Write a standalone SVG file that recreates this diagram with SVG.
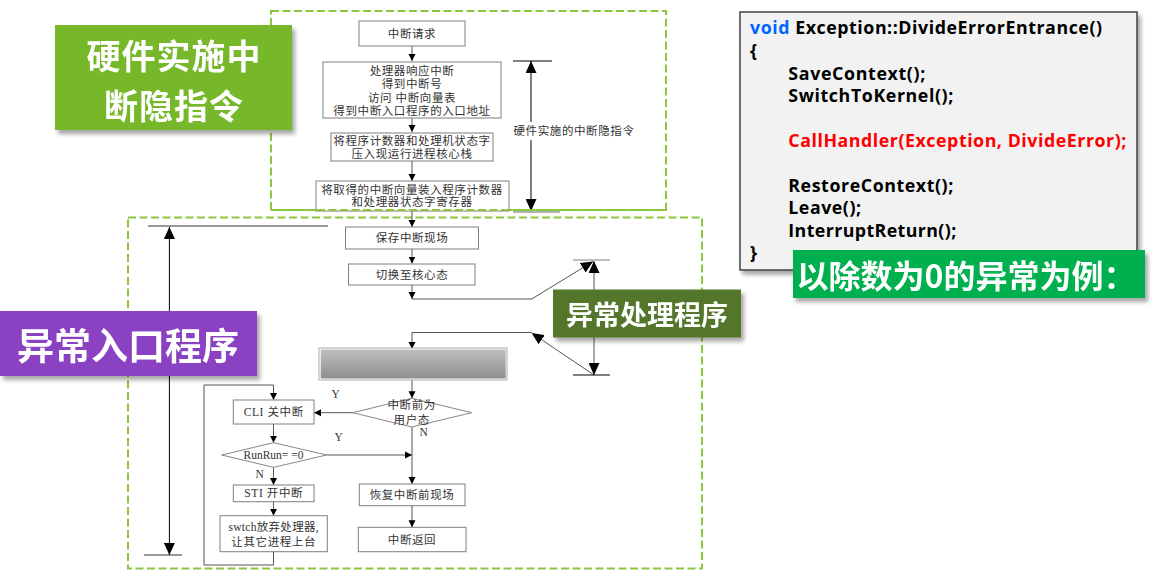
<svg xmlns="http://www.w3.org/2000/svg" width="1162" height="571" viewBox="0 0 1162 571">
<style>
.dash{fill:none;stroke:#8cc63f;stroke-width:2;stroke-dasharray:8 3.5}
.box{fill:#fff;stroke:#7f7f7f;stroke-width:1}
.ln{fill:none;stroke:#555;stroke-width:1}
.ft{font-family:"Liberation Serif","Noto Sans CJK SC",serif;font-size:11.5px;letter-spacing:0.6px;fill:#333;text-anchor:middle;dominant-baseline:central}
.code{font-family:"Open Sans","Noto Sans",sans-serif;font-weight:700;font-size:17.8px;fill:#000}
.lab{font-family:"Noto Sans CJK SC","Noto Sans",sans-serif;font-weight:700;fill:#fff;text-anchor:middle;dominant-baseline:central}
</style>
<defs>
<marker id="a" markerUnits="userSpaceOnUse" markerWidth="8" markerHeight="8" refX="7" refY="4" orient="auto"><path d="M0,0.5 L7,4 L0,7.5 z" fill="#000"/></marker>
<marker id="b" markerUnits="userSpaceOnUse" markerWidth="13" markerHeight="11" refX="12" refY="5.5" orient="auto-start-reverse"><path d="M0,0 L12,5.5 L0,11 z" fill="#000"/></marker>
<linearGradient id="g" x1="0" y1="0" x2="0" y2="1"><stop offset="0" stop-color="#c0c0c0"/><stop offset="1" stop-color="#8e8e8e"/></linearGradient>
<filter id="sh" x="-10%" y="-10%" width="130%" height="140%"><feDropShadow dx="3" dy="4" stdDeviation="2" flood-color="#000" flood-opacity="0.35"/></filter>
</defs>

<g id="frames">
<rect class="dash" x="271" y="11" width="395" height="199"/>
<rect class="dash" x="128" y="217.5" width="574" height="351"/>
</g>

<g id="connectors">
<line class="ln" x1="412" y1="46" x2="412" y2="61" marker-end="url(#a)"/>
<line class="ln" x1="412" y1="118" x2="412" y2="132" marker-end="url(#a)"/>
<line class="ln" x1="412" y1="161" x2="412" y2="181" marker-end="url(#a)"/>
<line class="ln" x1="412" y1="210" x2="412" y2="227" marker-end="url(#a)"/>
<line class="ln" x1="412" y1="249" x2="412" y2="263.5" marker-end="url(#a)"/>
<line class="ln" x1="412" y1="285" x2="412" y2="299" marker-end="url(#a)"/>
<polyline class="ln" points="412,299 531.7,299 593,261.5" marker-end="url(#b)"/>
<polyline class="ln" points="594,375 531.7,333" marker-end="url(#b)"/>
<polyline class="ln" points="531.7,332.5 412,332.5 412,349" marker-end="url(#a)"/>
<line class="ln" x1="412" y1="379" x2="412" y2="398.3" marker-end="url(#a)"/>
<line class="ln" x1="352.7" y1="412.7" x2="314" y2="412.7" marker-end="url(#a)"/>
<polyline class="ln" points="273.5,551.7 273.5,565 204,565 204,385 273.5,385 273.5,400" marker-end="url(#a)"/>
<line class="ln" x1="273.5" y1="424" x2="273.5" y2="442.7" marker-end="url(#a)"/>
<line class="ln" x1="326.7" y1="455" x2="412" y2="455" marker-end="url(#a)"/>
<line class="ln" x1="412" y1="427" x2="412" y2="484" marker-end="url(#a)"/>
<line class="ln" x1="273.5" y1="467.3" x2="273.5" y2="485" marker-end="url(#a)"/>
<line class="ln" x1="273.5" y1="501.7" x2="273.5" y2="515.7" marker-end="url(#a)"/>
<line class="ln" x1="412" y1="505.7" x2="412" y2="527.3" marker-end="url(#a)"/>
<line x1="513" y1="61" x2="552" y2="61" stroke="#000" stroke-width="1"/>
<line x1="513" y1="212" x2="560" y2="212" stroke="#999" stroke-width="1.5"/>
<line x1="531" y1="61" x2="531" y2="211" stroke="#000" stroke-width="1" marker-start="url(#b)" marker-end="url(#b)"/>
<line x1="148" y1="226" x2="328" y2="226" stroke="#333" stroke-width="1"/>
<line x1="144" y1="555" x2="182" y2="555" stroke="#333" stroke-width="1"/>
<line x1="169.4" y1="227" x2="169.4" y2="555" stroke="#000" stroke-width="1" marker-start="url(#b)" marker-end="url(#b)"/>
<line x1="573" y1="260" x2="610" y2="260" stroke="#aaa" stroke-width="1.5"/>
<line x1="573" y1="375" x2="610" y2="375" stroke="#000" stroke-width="1"/>
<line x1="594" y1="261" x2="594" y2="375" stroke="#555" stroke-width="1" marker-start="url(#b)" marker-end="url(#b)"/>
</g>

<g id="n1"><rect class="box" x="359" y="21" width="106" height="25"/><text class="ft" x="412" y="33.5">中断请求</text></g>
<g id="n2"><rect class="box" x="323" y="62" width="178" height="56"/>
<text class="ft" x="412" y="70.5">处理器响应中断</text><text class="ft" x="412" y="84">得到中断号</text><text class="ft" x="412" y="98">访问 中断向量表</text><text class="ft" x="412" y="111">得到中断入口程序的入口地址</text></g>
<g id="n3"><rect class="box" x="331" y="133" width="162" height="28"/>
<text class="ft" x="412" y="141">将程序计数器和处理机状态字</text><text class="ft" x="412" y="154">压入现运行进程核心栈</text></g>
<g id="n4"><rect class="box" x="316" y="181" width="193" height="30"/>
<text class="ft" x="412" y="189.5">将取得的中断向量装入程序计数器</text><text class="ft" x="412" y="202">和处理器状态字寄存器</text></g>
<g id="hwlabel"><rect x="512" y="122" width="124" height="18" fill="#fff"/><text class="ft" x="574" y="131">硬件实施的中断隐指令</text></g>
<line x1="271" y1="210" x2="666" y2="210" class="dash"/>

<g id="n5"><rect class="box" x="345.5" y="227" width="133" height="22"/><text class="ft" x="412" y="238">保存中断现场</text></g>
<g id="n6"><rect class="box" x="348.5" y="264" width="126.5" height="21"/><text class="ft" x="412" y="274.5">切换至核心态</text></g>
<g id="n7"><rect x="319" y="348" width="188" height="32" fill="#fff" stroke="#aaa" stroke-width="1"/><rect x="320.7" y="349.5" width="185" height="29" fill="url(#g)"/></g>
<g id="n8"><polygon points="411.7,398.3 471.7,412.7 411.7,427 352.7,412.7" fill="#fff" stroke="#888" stroke-width="1"/>
<text class="ft" x="411.7" y="405">中断前为</text><text class="ft" x="411.7" y="419.5">用户态</text></g>
<g id="n9"><rect class="box" x="233.3" y="400" width="80.7" height="24"/><text class="ft" x="273.7" y="412">CLI 关中断</text></g>
<g id="n10"><polygon points="273.5,442.7 326.7,455 273.5,467.3 221.7,455" fill="#fff" stroke="#888" stroke-width="1"/><text class="ft" x="273.5" y="455" style="letter-spacing:0">RunRun= =0</text></g>
<g id="n11"><rect class="box" x="233.3" y="485" width="80.7" height="16.7"/><text class="ft" x="273.7" y="493.3">STI 开中断</text></g>
<g id="n12"><rect class="box" x="220" y="515.7" width="107.3" height="36"/><text class="ft" x="273.7" y="527" style="letter-spacing:0.3px">swtch放弃处理器,</text><text class="ft" x="273.7" y="542">让其它进程上台</text></g>
<g id="n13"><rect class="box" x="359.3" y="484" width="105.7" height="21.7"/><text class="ft" x="412" y="495">恢复中断前现场</text></g>
<g id="n14"><rect class="box" x="358.3" y="527.3" width="107.7" height="24.4"/><text class="ft" x="412" y="539.5">中断返回</text></g>
<g id="yn"><text class="ft" x="336" y="394">Y</text><text class="ft" x="339" y="437">Y</text><text class="ft" x="424" y="432">N</text><text class="ft" x="260" y="474">N</text></g>

<g id="code" filter="url(#sh)"><rect x="740" y="12" width="397" height="258" fill="#f2f2f2" stroke="#404040" stroke-width="1.5"/></g>
<g id="codetext" class="code">
<text x="750" y="34" textLength="352"><tspan fill="#0066ff">void</tspan> Exception::DivideErrorEntrance()</text>
<text x="750" y="57">{</text>
<text x="788.3" y="79.5" textLength="137">SaveContext();</text>
<text x="788.3" y="101.5" textLength="165">SwitchToKernel();</text>
<text x="788.3" y="146.5" textLength="338" fill="#ff0000">CallHandler(Exception, DivideError);</text>
<text x="788.3" y="191.5" textLength="165">RestoreContext();</text>
<text x="788.3" y="214" textLength="72.7">Leave();</text>
<text x="788.3" y="236.5" textLength="168">InterruptReturn();</text>
<text x="750" y="259">}</text>
</g>

<g id="label-hw" filter="url(#sh)"><rect x="55" y="25" width="237" height="105" fill="#77b829"/>
<text class="lab" x="174" y="54" font-size="34" letter-spacing="1">硬件实施中</text><text class="lab" x="174" y="104" font-size="34" letter-spacing="1">断隐指令</text></g>
<g id="label-entry" filter="url(#sh)"><rect x="0" y="311" width="257" height="65" fill="#8b43c2"/>
<text class="lab" x="128" y="344" font-size="37">异常入口程序</text></g>
<g id="label-handler" filter="url(#sh)"><rect x="553" y="289.5" width="188" height="48" fill="#52762c"/>
<text class="lab" x="647" y="313.5" font-size="27">异常处理程序</text></g>
<g id="label-example" filter="url(#sh)"><rect x="793" y="250" width="352" height="48" fill="#00b050"/>
<text class="lab" x="966" y="274" font-size="32">以除数为0的异常为例：</text></g>
</svg>
